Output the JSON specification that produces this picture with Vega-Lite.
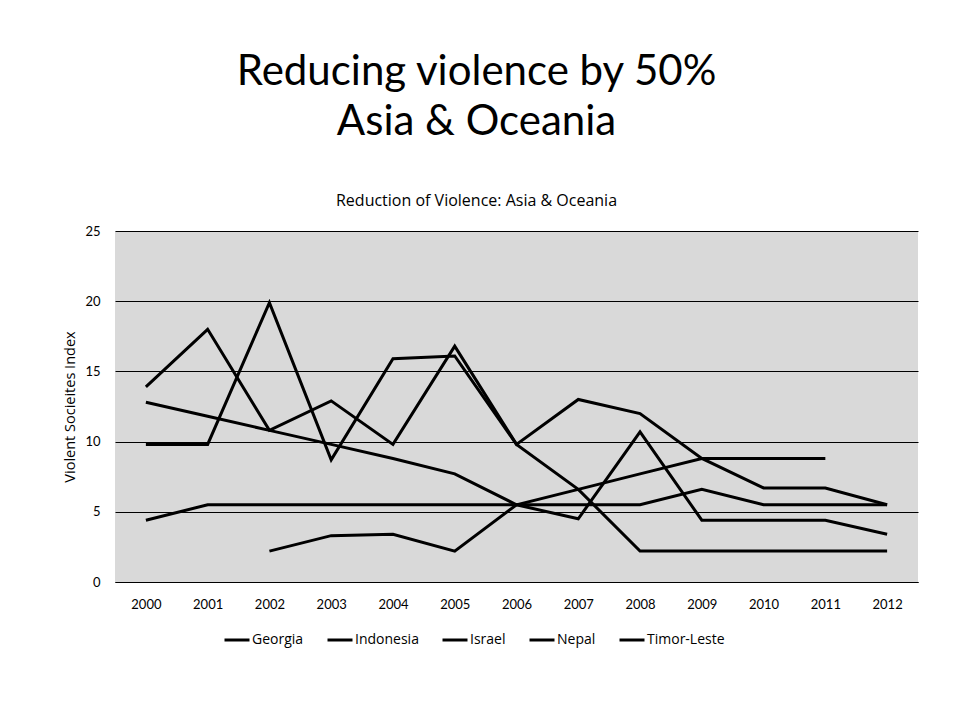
{
  "$schema": "https://vega.github.io/schema/vega-lite/v6.json",
  "width": 803,
  "height": 351,
  "autosize": {"type": "none"},
  "padding": {"left": 115, "top": 231, "right": 37, "bottom": 140},
  "background": "white",
  "title": {
    "text": ["Reducing violence by 50%", "Asia & Oceania"],
    "subtitle": "Reduction of Violence: Asia & Oceania",
    "anchor": "middle",
    "dx": -40,
    "font": "Lato",
    "fontSize": 42,
    "fontWeight": "normal",
    "color": "black",
    "lineHeight": 50,
    "subtitleFont": "Open Sans",
    "subtitleFontSize": 16,
    "subtitleColor": "black",
    "subtitlePadding": 49,
    "offset": 15
  },
  "data": {
    "values": [
      {"country": "Georgia", "year": "2000", "value": 13.9},
      {"country": "Georgia", "year": "2001", "value": 18.0},
      {"country": "Georgia", "year": "2002", "value": 10.8},
      {"country": "Georgia", "year": "2003", "value": 12.9},
      {"country": "Georgia", "year": "2004", "value": 9.8},
      {"country": "Georgia", "year": "2005", "value": 16.8},
      {"country": "Georgia", "year": "2006", "value": 9.8},
      {"country": "Georgia", "year": "2007", "value": 13.0},
      {"country": "Georgia", "year": "2008", "value": 12.0},
      {"country": "Georgia", "year": "2009", "value": 8.8},
      {"country": "Georgia", "year": "2010", "value": 6.7},
      {"country": "Georgia", "year": "2011", "value": 6.7},
      {"country": "Georgia", "year": "2012", "value": 5.5},

      {"country": "Indonesia", "year": "2000", "value": 9.8},
      {"country": "Indonesia", "year": "2001", "value": 9.8},
      {"country": "Indonesia", "year": "2002", "value": 19.9},
      {"country": "Indonesia", "year": "2003", "value": 8.7},
      {"country": "Indonesia", "year": "2004", "value": 15.9},
      {"country": "Indonesia", "year": "2005", "value": 16.1},
      {"country": "Indonesia", "year": "2006", "value": 9.8},
      {"country": "Indonesia", "year": "2007", "value": 6.6},
      {"country": "Indonesia", "year": "2008", "value": 2.2},
      {"country": "Indonesia", "year": "2009", "value": 2.2},
      {"country": "Indonesia", "year": "2010", "value": 2.2},
      {"country": "Indonesia", "year": "2011", "value": 2.2},
      {"country": "Indonesia", "year": "2012", "value": 2.2},

      {"country": "Israel", "year": "2000", "value": 12.8},
      {"country": "Israel", "year": "2001", "value": 11.8},
      {"country": "Israel", "year": "2002", "value": 10.8},
      {"country": "Israel", "year": "2003", "value": 9.8},
      {"country": "Israel", "year": "2004", "value": 8.8},
      {"country": "Israel", "year": "2005", "value": 7.7},
      {"country": "Israel", "year": "2006", "value": 5.5},
      {"country": "Israel", "year": "2007", "value": 4.5},
      {"country": "Israel", "year": "2008", "value": 10.7},
      {"country": "Israel", "year": "2009", "value": 4.4},
      {"country": "Israel", "year": "2010", "value": 4.4},
      {"country": "Israel", "year": "2011", "value": 4.4},
      {"country": "Israel", "year": "2012", "value": 3.4},

      {"country": "Nepal", "year": "2000", "value": 4.4},
      {"country": "Nepal", "year": "2001", "value": 5.5},
      {"country": "Nepal", "year": "2002", "value": 5.5},
      {"country": "Nepal", "year": "2003", "value": 5.5},
      {"country": "Nepal", "year": "2004", "value": 5.5},
      {"country": "Nepal", "year": "2005", "value": 5.5},
      {"country": "Nepal", "year": "2006", "value": 5.5},
      {"country": "Nepal", "year": "2007", "value": 5.5},
      {"country": "Nepal", "year": "2008", "value": 5.5},
      {"country": "Nepal", "year": "2009", "value": 6.6},
      {"country": "Nepal", "year": "2010", "value": 5.5},
      {"country": "Nepal", "year": "2011", "value": 5.5},
      {"country": "Nepal", "year": "2012", "value": 5.5},

      {"country": "Timor-Leste", "year": "2002", "value": 2.2},
      {"country": "Timor-Leste", "year": "2003", "value": 3.3},
      {"country": "Timor-Leste", "year": "2004", "value": 3.4},
      {"country": "Timor-Leste", "year": "2005", "value": 2.2},
      {"country": "Timor-Leste", "year": "2006", "value": 5.5},
      {"country": "Timor-Leste", "year": "2007", "value": 6.6},
      {"country": "Timor-Leste", "year": "2008", "value": 7.7},
      {"country": "Timor-Leste", "year": "2009", "value": 8.8},
      {"country": "Timor-Leste", "year": "2010", "value": 8.8},
      {"country": "Timor-Leste", "year": "2011", "value": 8.8}
    ]
  },
  "mark": {"type": "line", "strokeWidth": 3, "strokeJoin": "miter"},
  "encoding": {
    "x": {
      "field": "year",
      "type": "ordinal",
      "scale": {"type": "point", "padding": 0.5},
      "axis": {
        "title": null,
        "labelAngle": 0,
        "ticks": false,
        "grid": false,
        "domain": true,
        "domainColor": "black",
        "domainWidth": 1,
        "labelFont": "Lato",
        "labelFontSize": 13,
        "labelColor": "black",
        "labelPadding": 16
      }
    },
    "y": {
      "field": "value",
      "type": "quantitative",
      "scale": {"domain": [0, 25], "nice": false},
      "axis": {
        "title": "Violent Socieites Index",
        "titleFont": "Open Sans",
        "titleFontSize": 14.5,
        "titleFontWeight": "normal",
        "titleColor": "black",
        "titlePadding": 7,
        "values": [0, 5, 10, 15, 20, 25],
        "ticks": false,
        "domain": false,
        "grid": true,
        "gridColor": "black",
        "gridWidth": 1,
        "labelFont": "Lato",
        "labelFontSize": 13,
        "labelColor": "black",
        "labelPadding": 15
      }
    },
    "color": {
      "field": "country",
      "type": "nominal",
      "scale": {"range": ["black", "black", "black", "black", "black"]},
      "legend": {
        "title": null,
        "orient": "none",
        "legendX": 108,
        "legendY": 395,
        "direction": "horizontal",
        "symbolType": "stroke",
        "symbolStrokeWidth": 3,
        "symbolSize": 625,
        "labelFont": "Open Sans",
        "labelFontSize": 14,
        "labelColor": "black",
        "labelOffset": 1,
        "columnPadding": 17
      }
    }
  },
  "config": {
    "view": {"fill": "#d9d9d9", "stroke": null}
  }
}
